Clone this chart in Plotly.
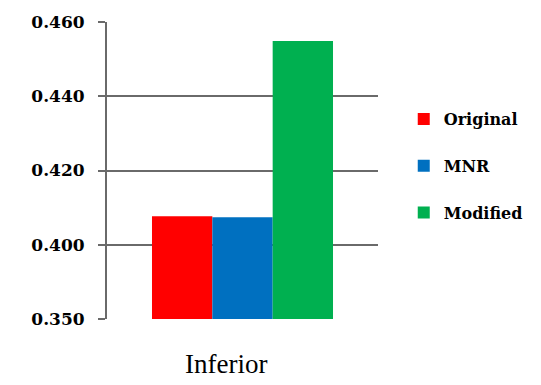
import numpy as np
import plotly.graph_objects as go

# Category and series values
categories = ["Inferior"]
series_names = ["Original", "MNR", "Modified"]
series_values = [[0.4077], [0.4074], [0.4549]]
series_colors = ["#FF0000", "#0070C0", "#00B050"]

# Tick values of the (non-uniform) value axis
tick_values = [0.350, 0.400, 0.420, 0.440, 0.460]
tick_labels = ["0.350", "0.400", "0.420", "0.440", "0.460"]

tick_pos = list(range(len(tick_values)))


def to_axis(v):
    """Map a value onto the evenly spaced tick positions (piecewise linear)."""
    return np.interp(v, tick_values, tick_pos)


fig = go.Figure()
for name, vals, color in zip(series_names, series_values, series_colors):
    fig.add_trace(go.Bar(
        x=categories,
        y=[float(to_axis(v)) for v in vals],
        name=name,
        legendgroup=name,
        marker=dict(color=color, line=dict(width=0)),
        customdata=vals,
        hovertemplate="%{customdata:.4f}<extra>" + name + "</extra>",
    ))

axis_grey = "#6a6a6a"

fig.update_layout(
    width=541,
    height=385,
    margin=dict(l=107, r=163, t=18, b=66),
    paper_bgcolor="white",
    plot_bgcolor="white",
    barmode="group",
    bargap=0.332,
    bargroupgap=0,
    showlegend=True,
    legend=dict(
        x=1.095, y=0.515, xanchor="left", yanchor="middle",
        font=dict(family="DejaVu Serif", size=16, color="black", weight="bold"),
        tracegroupgap=23,
        bgcolor="rgba(0,0,0,0)",
        borderwidth=0,
    ),
    xaxis=dict(
        showticklabels=False,
        showgrid=False,
        showline=False,
        ticks="",
        zeroline=False,
    ),
    yaxis=dict(
        range=[0, tick_pos[-1]],
        tickmode="array",
        tickvals=tick_pos,
        ticktext=tick_labels,
        showgrid=True,
        gridcolor=axis_grey,
        gridwidth=2,
        zeroline=False,
        showline=True,
        linecolor=axis_grey,
        linewidth=2,
        ticks="outside",
        ticklen=7,
        tickwidth=2,
        tickcolor=axis_grey,
        ticklabelstandoff=10,
        tickfont=dict(family="DejaVu Serif", size=17, color="black", weight="bold"),
    ),
    annotations=[dict(
        text=categories[0],
        xref="paper", yref="paper",
        x=0.438, y=-0.153,
        xanchor="center", yanchor="middle",
        showarrow=False,
        font=dict(family="Liberation Serif", size=27, color="black"),
    )],
)

fig.write_html("out.html")
